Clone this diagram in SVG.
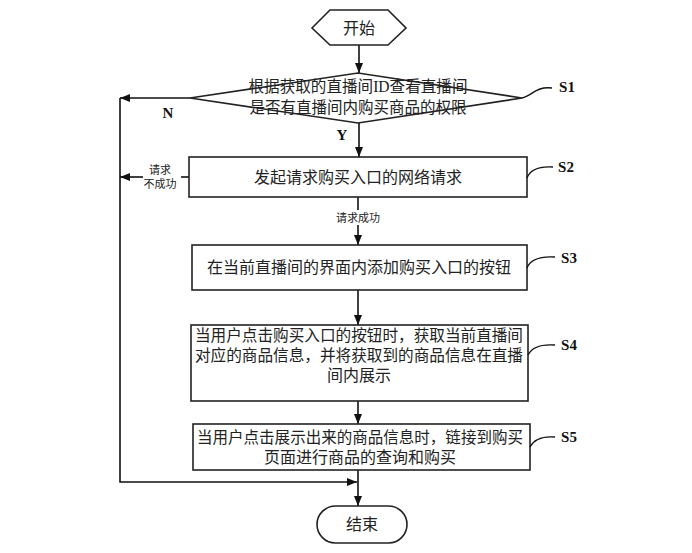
<svg xmlns="http://www.w3.org/2000/svg" width="692" height="553" viewBox="0 0 692 553">
<style>
.sh{fill:#fff;stroke:#222;stroke-width:1.6}
.ln{fill:none;stroke:#111;stroke-width:1.6}
.cv{fill:none;stroke:#111;stroke-width:1.4}
.t{font-family:"Liberation Serif","Noto Sans CJK SC",serif;font-size:16px;fill:#222;text-anchor:middle}
.s{font-family:"Liberation Serif","Noto Sans CJK SC",serif;font-size:11px;fill:#222;text-anchor:middle}
.lb{font-family:"Liberation Serif",serif;font-size:15px;font-weight:bold;fill:#111;text-anchor:middle}
</style>
<defs>
<marker id="ar" markerWidth="10" markerHeight="8" refX="10" refY="4" orient="auto" markerUnits="userSpaceOnUse">
<path d="M0,0 L10,4 L0,8 Z" fill="#111"/>
</marker>
</defs>
<rect width="692" height="553" fill="#fff"/>
<g id="connectors">
<line class="ln" x1="359" y1="45" x2="359" y2="73" marker-end="url(#ar)"/>
<line class="ln" x1="359" y1="123" x2="359" y2="157" marker-end="url(#ar)"/>
<line class="ln" x1="190" y1="98" x2="120" y2="98" marker-end="url(#ar)"/>
<polyline class="ln" points="120,98 120,482 357,482" marker-end="url(#ar)"/>
<line class="ln" x1="189" y1="177" x2="181" y2="177"/>
<line class="ln" x1="143" y1="177" x2="120" y2="177" marker-end="url(#ar)"/>
<line class="ln" x1="358" y1="197" x2="358" y2="210"/>
<line class="ln" x1="358" y1="225" x2="358" y2="245" marker-end="url(#ar)"/>
<line class="ln" x1="358" y1="290" x2="358" y2="325" marker-end="url(#ar)"/>
<line class="ln" x1="358" y1="401" x2="358" y2="424" marker-end="url(#ar)"/>
<line class="ln" x1="358" y1="470" x2="358" y2="506" marker-end="url(#ar)"/>
<text class="lb" x="168" y="118">N</text>
<text class="lb" x="342" y="140">Y</text>
<text class="s" x="160" y="174">请求</text>
<text class="s" x="160" y="188">不成功</text>
<text class="s" x="358" y="222">请求成功</text>
</g>
<g id="start">
<polygon class="sh" points="312,28 330,10 388,10 406,28 388,45 330,45"/>
<text class="t" x="359" y="34">开始</text>
</g>
<g id="s1">
<polygon class="sh" points="190,98 358,73 522,98 358,123"/>
<text class="t" x="358" y="92" textLength="219" lengthAdjust="spacingAndGlyphs">根据获取的直播间ID查看直播间</text>
<text class="t" x="358" y="113" textLength="217" lengthAdjust="spacingAndGlyphs">是否有直播间内购买商品的权限</text>
<path class="cv" d="M522,98 C532,96 536,86 552,88"/>
<text class="lb" x="567" y="92">S1</text>
</g>
<g id="s2">
<rect class="sh" x="189" y="157" width="338" height="40"/>
<text class="t" x="358" y="183">发起请求购买入口的网络请求</text>
<path class="cv" d="M527,178 C530,170 538,166 553,167"/>
<text class="lb" x="566" y="172">S2</text>
</g>
<g id="s3">
<rect class="sh" x="192" y="245" width="335" height="45"/>
<text class="t" x="359" y="273">在当前直播间的界面内添加购买入口的按钮</text>
<path class="cv" d="M527,268 C530,260 538,256 555,257"/>
<text class="lb" x="569" y="263">S3</text>
</g>
<g id="s4">
<rect class="sh" x="191" y="325" width="337" height="76"/>
<text class="t" x="359" y="341" textLength="328" lengthAdjust="spacingAndGlyphs">当用户点击购买入口的按钮时，获取当前直播间</text>
<text class="t" x="359" y="361" textLength="328" lengthAdjust="spacingAndGlyphs">对应的商品信息，并将获取到的商品信息在直播</text>
<text class="t" x="359" y="381">间内展示</text>
<path class="cv" d="M528,355 C532,347 540,344 555,345"/>
<text class="lb" x="569" y="350">S4</text>
</g>
<g id="s5">
<rect class="sh" x="193" y="424" width="337" height="46"/>
<text class="t" x="360" y="443" textLength="326" lengthAdjust="spacingAndGlyphs">当用户点击展示出来的商品信息时，链接到购买</text>
<text class="t" x="360" y="463">页面进行商品的查询和购买</text>
<path class="cv" d="M530,447 C534,439 542,436 555,437"/>
<text class="lb" x="569" y="442">S5</text>
</g>
<g id="end">
<rect class="sh" x="317" y="506" width="90" height="37" rx="18.5"/>
<text class="t" x="362" y="530">结束</text>
</g>
</svg>
